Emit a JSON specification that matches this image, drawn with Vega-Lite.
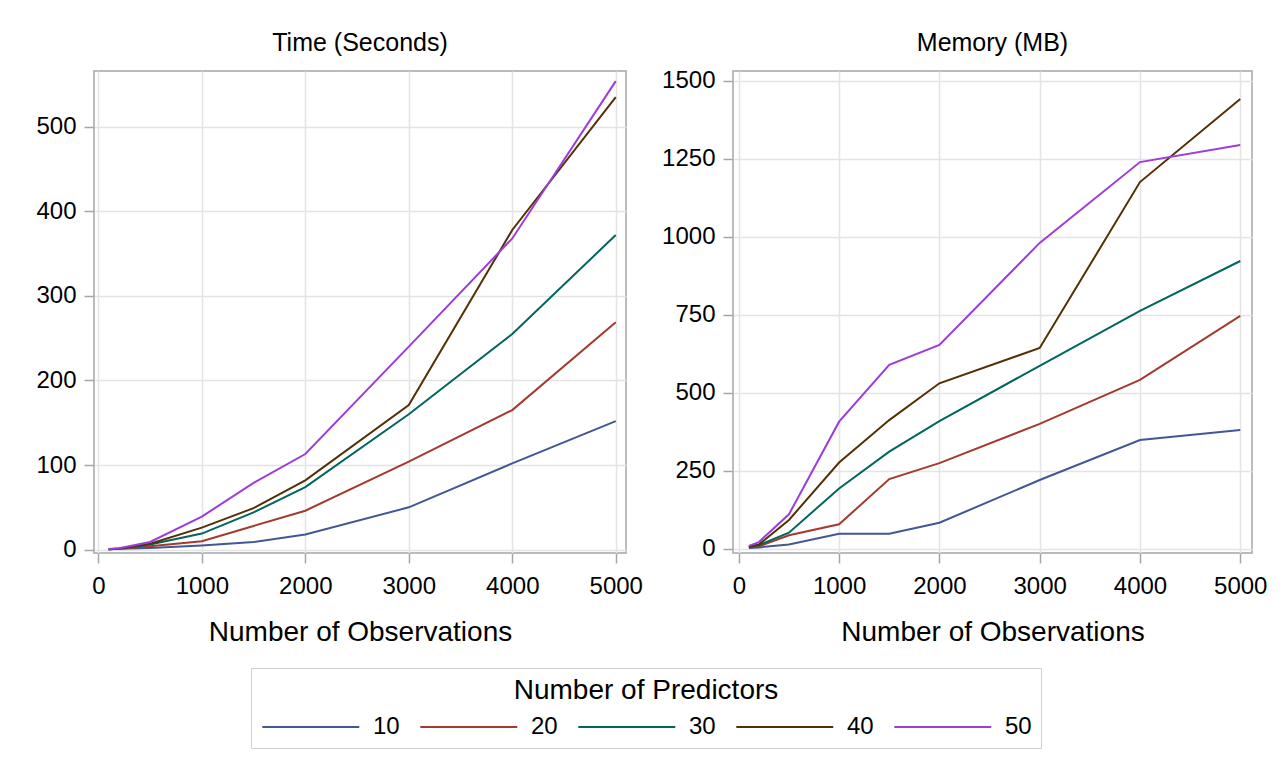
{
  "$schema": "https://vega.github.io/schema/vega-lite/v6.json",
  "background": "white",
  "padding": {"left": 35, "top": 30, "right": 5, "bottom": 5},
  "datasets": {
    "time": [
      {"n": 100, "p": "10", "v": 0.5}, {"n": 200, "p": "10", "v": 1}, {"n": 500, "p": "10", "v": 2}, {"n": 1000, "p": "10", "v": 5}, {"n": 1500, "p": "10", "v": 9}, {"n": 2000, "p": "10", "v": 18}, {"n": 3000, "p": "10", "v": 50}, {"n": 4000, "p": "10", "v": 102}, {"n": 5000, "p": "10", "v": 152},
      {"n": 100, "p": "20", "v": 0.5}, {"n": 200, "p": "20", "v": 1}, {"n": 500, "p": "20", "v": 4}, {"n": 1000, "p": "20", "v": 10}, {"n": 1500, "p": "20", "v": 28}, {"n": 2000, "p": "20", "v": 46}, {"n": 3000, "p": "20", "v": 104}, {"n": 4000, "p": "20", "v": 165}, {"n": 5000, "p": "20", "v": 269},
      {"n": 100, "p": "30", "v": 0.5}, {"n": 200, "p": "30", "v": 1}, {"n": 500, "p": "30", "v": 6}, {"n": 1000, "p": "30", "v": 19}, {"n": 1500, "p": "30", "v": 44}, {"n": 2000, "p": "30", "v": 74}, {"n": 3000, "p": "30", "v": 160}, {"n": 4000, "p": "30", "v": 255}, {"n": 5000, "p": "30", "v": 372},
      {"n": 100, "p": "40", "v": 0.5}, {"n": 200, "p": "40", "v": 1.2}, {"n": 500, "p": "40", "v": 7}, {"n": 1000, "p": "40", "v": 26}, {"n": 1500, "p": "40", "v": 49}, {"n": 2000, "p": "40", "v": 82}, {"n": 3000, "p": "40", "v": 171}, {"n": 4000, "p": "40", "v": 378}, {"n": 5000, "p": "40", "v": 535},
      {"n": 100, "p": "50", "v": 0.6}, {"n": 200, "p": "50", "v": 1.5}, {"n": 500, "p": "50", "v": 9}, {"n": 1000, "p": "50", "v": 39}, {"n": 1500, "p": "50", "v": 79}, {"n": 2000, "p": "50", "v": 113}, {"n": 3000, "p": "50", "v": 240}, {"n": 4000, "p": "50", "v": 368}, {"n": 5000, "p": "50", "v": 554}
    ],
    "memory": [
      {"n": 100, "p": "10", "v": 3}, {"n": 200, "p": "10", "v": 5}, {"n": 500, "p": "10", "v": 14}, {"n": 1000, "p": "10", "v": 49}, {"n": 1500, "p": "10", "v": 49}, {"n": 2000, "p": "10", "v": 84}, {"n": 3000, "p": "10", "v": 221}, {"n": 4000, "p": "10", "v": 349}, {"n": 5000, "p": "10", "v": 381},
      {"n": 100, "p": "20", "v": 5}, {"n": 200, "p": "20", "v": 8}, {"n": 500, "p": "20", "v": 44}, {"n": 1000, "p": "20", "v": 79}, {"n": 1500, "p": "20", "v": 224}, {"n": 2000, "p": "20", "v": 275}, {"n": 3000, "p": "20", "v": 401}, {"n": 4000, "p": "20", "v": 542}, {"n": 5000, "p": "20", "v": 747},
      {"n": 100, "p": "30", "v": 6}, {"n": 200, "p": "30", "v": 12}, {"n": 500, "p": "30", "v": 52}, {"n": 1000, "p": "30", "v": 194}, {"n": 1500, "p": "30", "v": 312}, {"n": 2000, "p": "30", "v": 410}, {"n": 3000, "p": "30", "v": 587}, {"n": 4000, "p": "30", "v": 763}, {"n": 5000, "p": "30", "v": 923},
      {"n": 100, "p": "40", "v": 7}, {"n": 200, "p": "40", "v": 14}, {"n": 500, "p": "40", "v": 93}, {"n": 1000, "p": "40", "v": 277}, {"n": 1500, "p": "40", "v": 413}, {"n": 2000, "p": "40", "v": 531}, {"n": 3000, "p": "40", "v": 644}, {"n": 4000, "p": "40", "v": 1176}, {"n": 5000, "p": "40", "v": 1442},
      {"n": 100, "p": "50", "v": 10}, {"n": 200, "p": "50", "v": 22}, {"n": 500, "p": "50", "v": 111}, {"n": 1000, "p": "50", "v": 408}, {"n": 1500, "p": "50", "v": 590}, {"n": 2000, "p": "50", "v": 654}, {"n": 3000, "p": "50", "v": 981}, {"n": 4000, "p": "50", "v": 1240}, {"n": 5000, "p": "50", "v": 1295}
    ]
  },
  "hconcat": [
    {
      "width": 532,
      "height": 482,
      "title": {"text": "Time (Seconds)", "offset": 15},
      "data": {"name": "time"},
      "mark": {"type": "line", "strokeWidth": 2},
      "encoding": {
        "x": {"field": "n", "type": "quantitative", "title": "Number of Observations",
              "scale": {"domain": [-42, 5099], "nice": false, "zero": false},
              "axis": {"values": [0, 1000, 2000, 3000, 4000, 5000], "format": "d"}},
        "y": {"field": "v", "type": "quantitative", "title": null,
              "scale": {"domain": [-4, 566], "nice": false, "zero": false},
              "axis": {"values": [0, 100, 200, 300, 400, 500], "format": "d"}},
        "color": {"field": "p", "type": "nominal", "title": "Number of Predictors",
                  "scale": {"domain": ["10", "20", "30", "40", "50"], "range": ["#445694", "#A23A2E", "#01665E", "#543005", "#9D3CDB"]}}
      }
    },
    {
      "width": 519,
      "height": 482,
      "title": {"text": "Memory (MB)", "offset": 13},
      "data": {"name": "memory"},
      "mark": {"type": "line", "strokeWidth": 2},
      "encoding": {
        "x": {"field": "n", "type": "quantitative", "title": "Number of Observations",
              "scale": {"domain": [-58, 5117], "nice": false, "zero": false},
              "axis": {"values": [0, 1000, 2000, 3000, 4000, 5000], "format": "d"}},
        "y": {"field": "v", "type": "quantitative", "title": null,
              "scale": {"domain": [-13, 1532], "nice": false, "zero": false},
              "axis": {"values": [0, 250, 500, 750, 1000, 1250, 1500], "format": "d"}},
        "color": {"field": "p", "type": "nominal", "title": "Number of Predictors",
                  "scale": {"domain": ["10", "20", "30", "40", "50"], "range": ["#445694", "#A23A2E", "#01665E", "#543005", "#9D3CDB"]}}
      }
    }
  ],
  "spacing": 16,
  "resolve": {"scale": {"x": "independent", "y": "independent"}},
  "config": {
    "font": "Liberation Sans",
    "view": {"stroke": "#a3a6ab", "strokeWidth": 1.5},
    "title": {"fontSize": 25, "fontWeight": "normal", "color": "#000", "anchor": "middle"},
    "axis": {
      "domain": false,
      "grid": true,
      "gridColor": "#e4e4e4",
      "gridWidth": 1.5,
      "tickColor": "#a3a6ab",
      "tickSize": 10,
      "tickWidth": 1.5,
      "labelFontSize": 24,
      "labelColor": "#000",
      "labelPadding": 11,
      "titleFontSize": 28,
      "titleFontWeight": "normal",
      "titleColor": "#000",
      "titlePadding": 20
    },
    "axisY": {"labelPadding": 8},
    "legend": {
      "orient": "none",
      "legendX": 157,
      "legendY": 597,
      "direction": "horizontal",
      "columns": 5,
      "strokeColor": "#d0d0d0",
      "padding": 9,
      "titleFontSize": 28,
      "titleFontWeight": "normal",
      "titleColor": "#000",
      "titleAnchor": "middle",
      "titleLimit": 1000,
      "titlePadding": 10,
      "labelFontSize": 24,
      "labelColor": "#000",
      "labelOffset": 89,
      "columnPadding": 16,
      "symbolType": "M-1,0H9",
      "symbolSize": 376,
      "symbolStrokeWidth": 2
    }
  }
}
